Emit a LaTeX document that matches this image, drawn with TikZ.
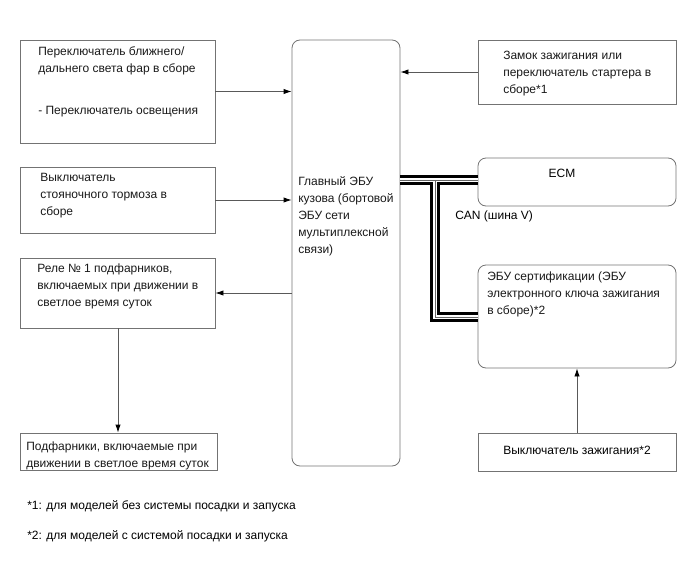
\documentclass[tikz,border=0pt]{standalone}
\usepackage{fontspec}
\setmainfont{Liberation Sans}
\usetikzlibrary{fit, arrows.meta}
\begin{document}
\begin{tikzpicture}
[
    x=0.75pt, y=-0.75pt,
    font=\fontsize{9}{12.75}\selectfont,
    unit/.style={draw=black!55, line width=0.6pt, inner sep=0pt},
    ecu/.style={unit, rounded corners=6pt},
    txt/.style={anchor=north west, inner sep=0pt, align=left, text=black!90},
    flow/.style={->, >={Latex[length=6pt, width=4pt, color=black]}, draw=black!65, line width=0.6pt},
]
    \useasboundingbox (0,0) rectangle (688,560);

    % left side
    \node[unit, fit={(20,40) (215,143)}] (hlsw) {};
    \node[unit, fit={(20,167) (215,233)}] (pbsw) {};
    \node[unit, fit={(20,258) (215,328)}] (relay) {};
    \node[unit, fit={(20,433) (217,470)}] (drl) {};

    % body ECU
    \node[ecu, fit={(292,40) (400,466)}] (body) {};

    % right side
    \node[unit, fit={(478,40) (676,104)}] (igsw) {};
    \node[ecu, fit={(478,158) (676,206)}] (ecm) {};
    \node[ecu, fit={(478,265) (676,368)}] (cert) {};
    \node[unit, fit={(478,433) (676,471)}] (stsw) {};

    % texts
    \node[txt] (hlswtxt) at (38,46) {Переключатель ближнего/\\дальнего света фар в сборе\\[19pt]- Переключатель освещения};
    \node[txt] (pbswtxt) at (40,173) {Выключатель\\стояночного тормоза в\\сборе};
    \node[txt] (relaytxt) at (37,264) {Реле № 1 подфарников,\\включаемых при движении в\\светлое время суток};
    \node[txt] (drltxt) at (26,442) {Подфарники, включаемые при\\движении в светлое время суток};
    \node[txt] (bodytxt) at (298,176) {Главный ЭБУ\\кузова (бортовой\\ЭБУ сети\\мультиплексной\\связи)};
    \node[txt] (igswtxt) at (503,51) {Замок зажигания или\\переключатель стартера в\\сборе*1};
    \node[inner sep=0pt] (ecmtxt) at (562,173) {ECM};
    \node[anchor=west, inner sep=0pt] (cantxt) at (455,216) {CAN (шина V)};
    \node[txt] (certtxt) at (487,272) {ЭБУ сертификации (ЭБУ\\электронного ключа зажигания\\в сборе)*2};
    \node[inner sep=0pt] (stswtxt) at (577,450) {Выключатель зажигания*2};
    \node[anchor=west, inner sep=0pt] (note1) at (27,506) {*1: для моделей без системы посадки и запуска};
    \node[anchor=west, inner sep=0pt] (note2) at (27,536) {*2: для моделей с системой посадки и запуска};

    % signals
    \draw[flow] (hlsw.east) -- (hlsw.east -| body.west);
    \draw[flow] (pbsw.east) -- (pbsw.east -| body.west);
    \draw[flow] (body.west |- relay.east) -- (relay.east);
    \draw[flow] (relay.south -| 118,0) -- (drl.north -| 118,0);
    \draw[flow] (igsw.west) -- (igsw.west -| body.east);
    \draw[flow] (stsw.north) -- (cert.south);

    % CAN bus
    \coordinate (tee) at (435,180);
    \coordinate (bend) at (435,317);
    \foreach \w/\c in {7pt/black, 3.6pt/white, 0.6pt/black!60}
    {
        \draw[line width=\w, \c] (tee -| body.east) -- (tee -| ecm.west);
        \draw[line width=\w, \c] (tee) -- (bend) -- (bend -| cert.west);
    }
\end{tikzpicture}
\end{document}
